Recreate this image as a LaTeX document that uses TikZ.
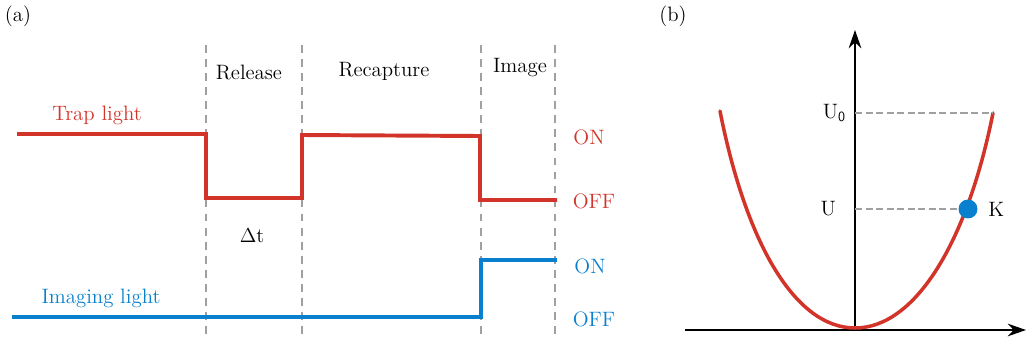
\documentclass[tikz,border=0pt]{standalone}
\usetikzlibrary{arrows.meta}
\definecolor{traprd}{RGB}{210,52,42}
\definecolor{imgbl}{RGB}{8,128,206}
\definecolor{guide}{RGB}{160,160,160}

\begin{document}
\begin{tikzpicture}[x=0.025cm,y=-0.025cm,font=\fontsize{14.8}{17}\selectfont,
        phase/.style={guide,line width=1.2pt,dash pattern=on 5.5pt off 4.5pt},
        level/.style={guide,line width=1.1pt,dash pattern=on 5pt off 2.5pt},
        pulse/.style={line width=2.8pt,line join=miter},
        axis/.style={line width=1pt,-{Stealth[length=13pt,width=9pt]}}]
        \useasboundingbox (0,0) rectangle (1028,343);
        % (a) timing diagram
        \node (lbla) at (18,16) {(a)};
        \foreach \x/\name in {206/p1,302/p2,481/p3,555/p4}
            \draw[phase] (\x,45) coordinate (\name top) -- (\x,340) coordinate (\name bot);
        \node (release) at (249,72) {Release};
        \node (recapture) at (384,71) {Recapture};
        \node (image) at (520,68) {Image};
        \node[text=traprd] (traplbl) at (97,115) {Trap light};
        \node[text=imgbl] (imglbl) at (101,298) {Imaging light};
        \node (dt) at (252,236) {$\Delta$t};
        \node[text=traprd] (tron) at (589,137) {ON};
        \node[text=traprd] (troff) at (594,201) {OFF};
        \node[text=imgbl] (imon) at (590,266) {ON};
        \node[text=imgbl] (imoff) at (594,319) {OFF};
        \draw[pulse,traprd] (17,134) -- (206,134) -- (206,198) -- (302,198) -- (302,135)
            -- (480,136) -- (480,200) -- (557,200);
        \draw[pulse,imgbl] (12,317) -- (481,317) -- (481,260) -- (557,260);
        % (b) trap potential
        \node (lblb) at (673,16) {(b)};
        \coordinate (origin) at (855,330);
        \draw[axis] (685,330) -- (1026,330);
        \draw[axis] (origin) -- (855,30);
        \draw[traprd,line width=2.5pt,line cap=round] (720,111) .. controls (746,243) and (795,328) .. (855,328)
            .. controls (915,328) and (967,243) .. (993,113);
        \node[circle,fill=imgbl,inner sep=0pt,minimum size=13.5pt] (atom) at (968,209) {};
        \draw[level] (855,113) coordinate (u0pt) -- (993,113);
        \draw[level] (855,209) coordinate (upt) -- (atom.west);
        \node[left=3pt] (u0lbl) at (u0pt) {U$_{\mathsf{0}}$};
        \node[left=10pt] (ulbl) at (upt) {U};
        \node[right=4pt] (klbl) at (atom.east) {K};
    \end{tikzpicture}
\end{document}
